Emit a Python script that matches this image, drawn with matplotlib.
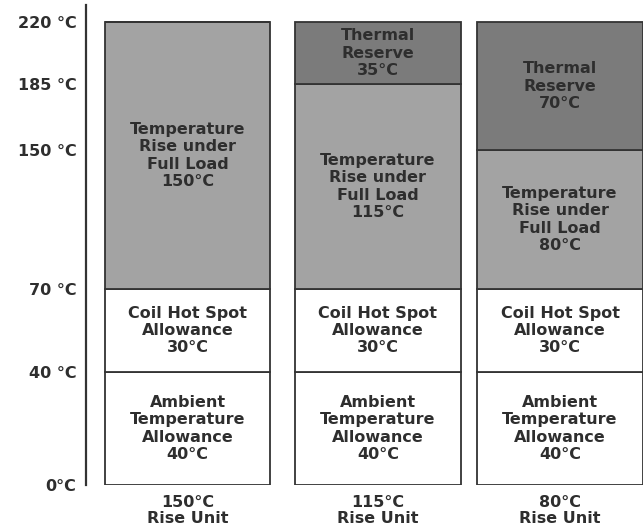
import matplotlib
matplotlib.use("Agg")
import matplotlib.pyplot as plt
import numpy as np

# dados
unidades = ["150°C\nRise Unit", "115°C\nRise Unit", "80°C\nRise Unit"]
ambiente = [40, 40, 40]
hot_spot = [30, 30, 30]
elevacao = [150, 115, 80]
reserva = [0, 35, 70]
yticks = [0, 40, 70, 150, 185, 220]
ytick_labels = ["0°C", "40 °C", "70 °C", "150 °C", "185 °C", "220 °C"]

# escala do eixo y (nao linear, como no desenho original)
nos_v = [0, 40, 70, 150, 185, 220, 230]
nos_h = [0, 113, 196, 335, 401, 463, 481]


def frente(v):
	return np.interp(v, nos_v, nos_h)


def volta(h):
	return np.interp(h, nos_h, nos_v)


cor_txt = "#2e2e2e"
plt.rcParams['font.family'] = ['DejaVu Sans']
plt.rcParams['font.weight'] = 'bold'

fig = plt.figure(figsize=(6.43, 5.29), dpi=100)
ax = fig.add_axes([86/643, 44/529, 557/643, 480/529])
ax.set_yscale('function', functions=(frente, volta))

x = np.array([0, 1.024, 2.003])
larg = 0.892
borda = dict(edgecolor="#333333", linewidth=1.3)

segmentos = [
	(ambiente, "white", "Ambient\nTemperature\nAllowance\n{}°C"),
	(hot_spot, "white", "Coil Hot Spot\nAllowance\n{}°C"),
	(elevacao, "#a3a3a3", "Temperature\nRise under\nFull Load\n{}°C"),
	(reserva, "#7b7b7b", "Thermal\nReserve\n{}°C"),
]

base = np.zeros(len(unidades))
for vals, cor, rotulo in segmentos:
	vals = np.array(vals, dtype=float)
	ax.bar(x, vals, larg, bottom=base, color=cor, **borda)
	for i in range(len(x)):
		if vals[i] > 0:
			meio = volta((frente(base[i]) + frente(base[i] + vals[i])) / 2)
			ax.text(x[i], meio, rotulo.format(int(vals[i])), ha="center", va="center",
					fontsize=11.5, fontweight="bold", color=cor_txt, linespacing=1.18)
	base = base + vals

ax.set_xlim(-0.546, 2.449)
ax.set_ylim(0, 229.5)
ax.set_yticks(yticks)
ax.set_yticklabels(ytick_labels, fontsize=11.5, fontweight="bold", color=cor_txt)
ax.yaxis.set_minor_locator(matplotlib.ticker.NullLocator())
ax.set_xticks(x)
ax.set_xticklabels(unidades, fontsize=11.5, fontweight="bold", color=cor_txt, linespacing=1.1)
ax.tick_params(axis="y", length=0, pad=7)
ax.tick_params(axis="x", length=0, pad=7)

for lado in ["top", "right", "bottom"]:
	ax.spines[lado].set_visible(False)
ax.spines["left"].set_linewidth(1.6)
ax.spines["left"].set_color("#333333")

fig.savefig("out.png", dpi=100)
